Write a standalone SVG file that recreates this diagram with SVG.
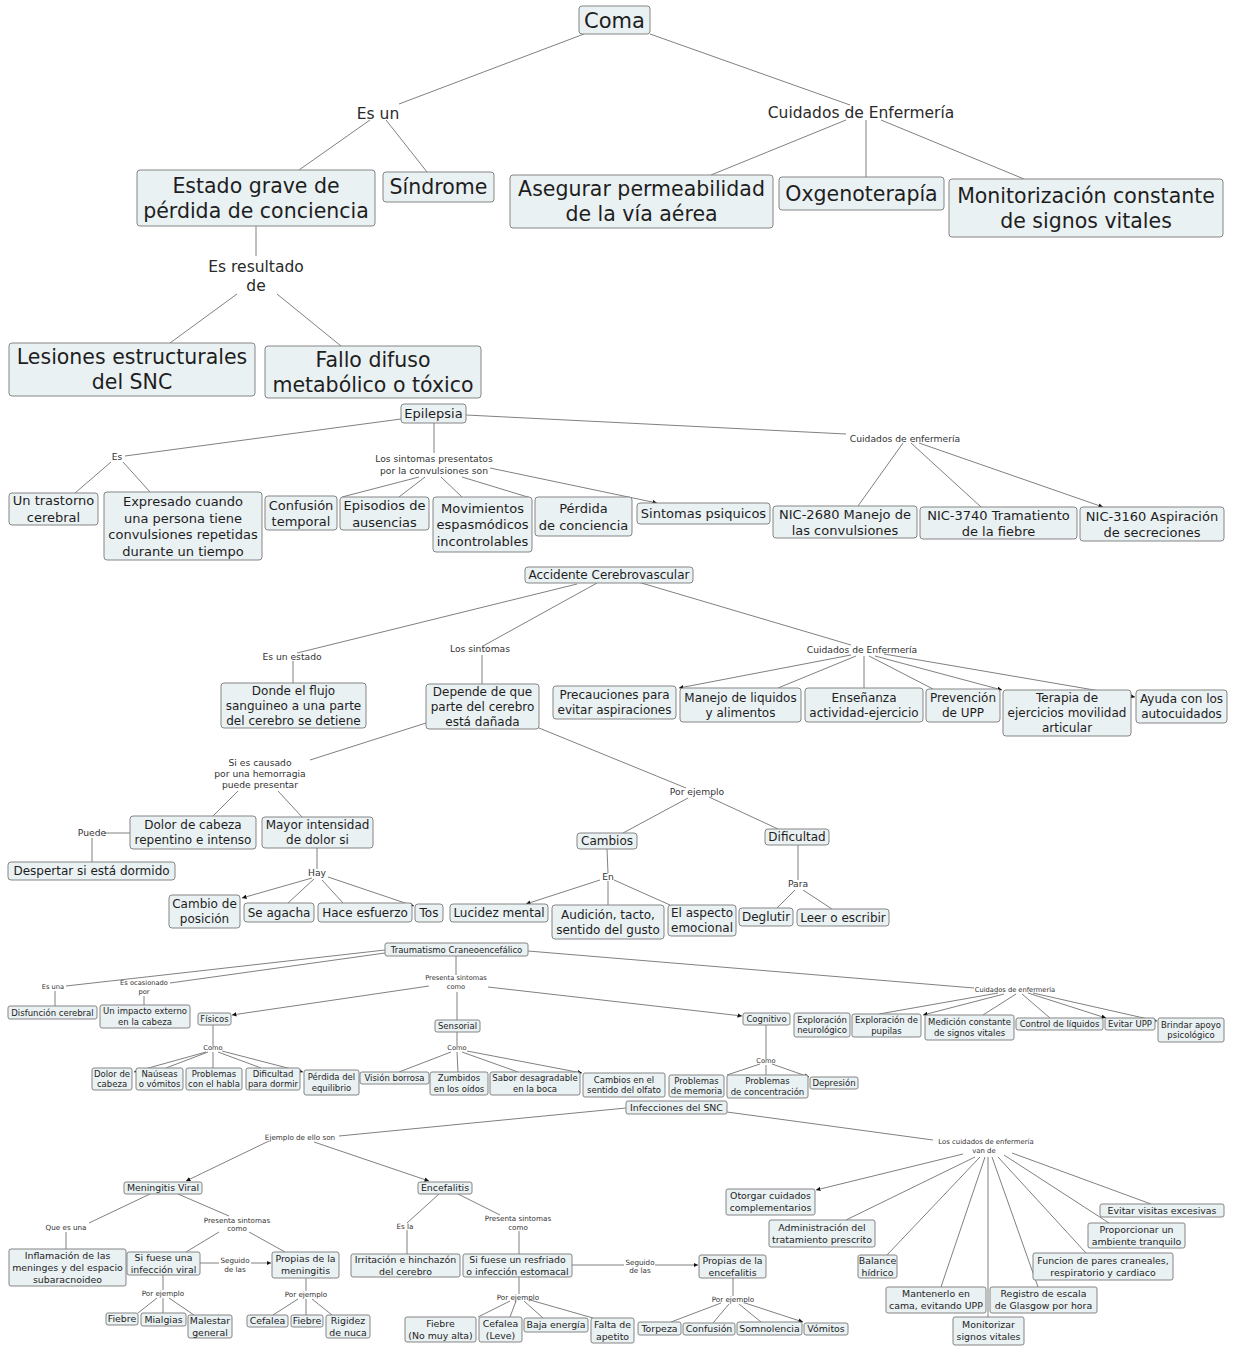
<svg xmlns="http://www.w3.org/2000/svg" width="1233" height="1346" viewBox="0 0 1233 1346">
<style>
text{font-family:"DejaVu Sans",Verdana,"Liberation Sans",sans-serif;fill:#1e1e1e;text-anchor:middle}
.n rect{fill:#eaf1f3;stroke:#858585;stroke-width:1}
.c line{stroke:#808080;stroke-width:1}
.c line.a{marker-end:url(#ah)}
.f21{font-size:21px}.f20{font-size:20.5px}.f13{font-size:13px}.f12{font-size:12px}.f9{font-size:9.4px}.f85{font-size:8.5px}
.l15{font-size:15.5px;fill:#2a2a2a}.l9{font-size:9.2px;fill:#333}.l7{font-size:7.2px;fill:#333}.l67{font-size:6.7px;fill:#333}
</style>
<defs>
<marker id="ah" viewBox="0 0 6 6" refX="6" refY="3" markerWidth="4.5" markerHeight="4.5" orient="auto" markerUnits="userSpaceOnUse"><path d="M0,0 L6,3 L0,6 z" fill="#111"/></marker>
</defs>
<rect width="1233" height="1346" fill="#ffffff"/>
<g id="connectors" class="c">
<!-- Coma -->
<line x1="584" y1="34" x2="399" y2="104"/>
<line x1="370" y1="120" x2="299" y2="170"/>
<line x1="386" y1="120" x2="427" y2="172"/>
<line x1="650" y1="34" x2="850" y2="105"/>
<line x1="846" y1="120" x2="711" y2="175"/>
<line x1="866" y1="120" x2="866" y2="177"/>
<line x1="881" y1="120" x2="1024" y2="179"/>
<line x1="256" y1="226" x2="256" y2="256"/>
<line x1="237" y1="294" x2="170" y2="343"/>
<line x1="277" y1="294" x2="341" y2="346"/>
<!-- Epilepsia -->
<line x1="401" y1="419" x2="125" y2="456"/>
<line x1="111" y1="462" x2="75" y2="493"/>
<line x1="123" y1="462" x2="150" y2="492"/>
<line x1="434" y1="423" x2="434" y2="453"/>
<line x1="419" y1="477" x2="342" y2="497"/>
<line x1="425" y1="477" x2="399" y2="497"/>
<line x1="441" y1="477" x2="462" y2="497"/>
<line x1="462" y1="477" x2="531" y2="498"/>
<line class="a" x1="490" y1="468" x2="657" y2="503"/>
<line x1="466" y1="415" x2="846" y2="434"/>
<line x1="903" y1="443" x2="858" y2="506"/>
<line x1="911" y1="443" x2="981" y2="507"/>
<line class="a" x1="919" y1="443" x2="1103" y2="507"/>
<!-- ACV -->
<line x1="577" y1="584" x2="297" y2="653"/>
<line x1="293" y1="661" x2="293" y2="683"/>
<line x1="597" y1="583" x2="483" y2="646"/>
<line x1="482" y1="655" x2="482" y2="684"/>
<line x1="638" y1="582" x2="851" y2="645"/>
<line class="a" x1="851" y1="655" x2="679" y2="688"/>
<line x1="856" y1="656" x2="778" y2="688"/>
<line x1="864" y1="656" x2="864" y2="688"/>
<line x1="869" y1="656" x2="933" y2="689"/>
<line class="a" x1="875" y1="656" x2="1002" y2="690"/>
<line class="a" x1="884" y1="654" x2="1135" y2="697"/>
<line x1="426" y1="723" x2="310" y2="760"/>
<line x1="539" y1="728" x2="686" y2="788"/>
<line x1="238" y1="791" x2="213" y2="816"/>
<line x1="278" y1="791" x2="302" y2="817"/>
<line x1="130" y1="833" x2="104" y2="833"/>
<line x1="92" y1="838" x2="92" y2="862"/>
<line x1="317" y1="847" x2="317" y2="869"/>
<line class="a" x1="312" y1="878" x2="242" y2="898"/>
<line x1="314" y1="879" x2="288" y2="903"/>
<line x1="322" y1="880" x2="343" y2="903"/>
<line class="a" x1="328" y1="877" x2="414" y2="906"/>
<line x1="688" y1="798" x2="623" y2="833"/>
<line x1="709" y1="797" x2="778" y2="829"/>
<line x1="607" y1="849" x2="608" y2="873"/>
<line class="a" x1="600" y1="880" x2="526" y2="904"/>
<line x1="608" y1="881" x2="608" y2="905"/>
<line x1="614" y1="880" x2="670" y2="905"/>
<line x1="798" y1="845" x2="798" y2="880"/>
<line x1="795" y1="890" x2="777" y2="908"/>
<line x1="803" y1="890" x2="832" y2="909"/>
<!-- Trauma -->
<line x1="385" y1="950" x2="66" y2="986"/>
<line x1="385" y1="953" x2="170" y2="983"/>
<line x1="55" y1="991" x2="55" y2="1006"/>
<line x1="144" y1="996" x2="144" y2="1005"/>
<line x1="456" y1="956" x2="456" y2="975"/>
<line class="a" x1="429" y1="986" x2="232" y2="1015"/>
<line x1="457" y1="992" x2="457" y2="1020"/>
<line class="a" x1="488" y1="987" x2="742" y2="1016"/>
<line x1="528" y1="951" x2="974" y2="988"/>
<line x1="998" y1="993" x2="879" y2="1014"/>
<line class="a" x1="1004" y1="994" x2="923" y2="1015"/>
<line x1="1016" y1="994" x2="983" y2="1015"/>
<line x1="1022" y1="994" x2="1050" y2="1018"/>
<line class="a" x1="1028" y1="993" x2="1106" y2="1018"/>
<line class="a" x1="1033" y1="993" x2="1157" y2="1021"/>
<line x1="213" y1="1025" x2="213" y2="1046"/>
<line class="a" x1="206" y1="1052" x2="134" y2="1072"/>
<line x1="208" y1="1052" x2="166" y2="1068"/>
<line x1="213" y1="1052" x2="213" y2="1068"/>
<line x1="218" y1="1052" x2="261" y2="1068"/>
<line class="a" x1="222" y1="1051" x2="303" y2="1072"/>
<line x1="457" y1="1032" x2="457" y2="1046"/>
<line x1="451" y1="1052" x2="399" y2="1072"/>
<line x1="457" y1="1052" x2="458" y2="1072"/>
<line x1="462" y1="1052" x2="518" y2="1072"/>
<line class="a" x1="467" y1="1051" x2="582" y2="1073"/>
<line x1="766" y1="1025" x2="766" y2="1059"/>
<line x1="760" y1="1064" x2="727" y2="1075"/>
<line x1="766" y1="1065" x2="766" y2="1075"/>
<line class="a" x1="772" y1="1064" x2="809" y2="1077"/>
<!-- Infecciones -->
<line x1="626" y1="1108" x2="339" y2="1136"/>
<line x1="727" y1="1112" x2="933" y2="1140"/>
<line class="a" x1="269" y1="1141" x2="186" y2="1181"/>
<line class="a" x1="314" y1="1142" x2="429" y2="1181"/>
<line x1="150" y1="1194" x2="89" y2="1223"/>
<line x1="66" y1="1232" x2="66" y2="1249"/>
<line x1="178" y1="1194" x2="229" y2="1216"/>
<line x1="219" y1="1232" x2="186" y2="1252"/>
<line x1="249" y1="1232" x2="285" y2="1252"/>
<line x1="200" y1="1263" x2="219" y2="1263"/>
<line class="a" x1="251" y1="1263" x2="271" y2="1263"/>
<line x1="163" y1="1275" x2="163" y2="1290"/>
<line x1="157" y1="1298" x2="138" y2="1313"/>
<line x1="163" y1="1298" x2="163" y2="1313"/>
<line x1="169" y1="1298" x2="194" y2="1315"/>
<line x1="306" y1="1278" x2="306" y2="1291"/>
<line x1="298" y1="1299" x2="273" y2="1315"/>
<line x1="306" y1="1299" x2="306" y2="1315"/>
<line x1="312" y1="1299" x2="332" y2="1315"/>
<line x1="439" y1="1194" x2="407" y2="1223"/>
<line x1="407" y1="1230" x2="407" y2="1254"/>
<line x1="458" y1="1194" x2="500" y2="1215"/>
<line x1="519" y1="1231" x2="519" y2="1254"/>
<line x1="572" y1="1265" x2="624" y2="1265"/>
<line class="a" x1="655" y1="1265" x2="698" y2="1265"/>
<line x1="519" y1="1277" x2="519" y2="1294"/>
<line x1="510" y1="1301" x2="478" y2="1317"/>
<line x1="516" y1="1301" x2="510" y2="1317"/>
<line x1="524" y1="1301" x2="543" y2="1318"/>
<line x1="530" y1="1300" x2="593" y2="1318"/>
<line x1="733" y1="1278" x2="733" y2="1296"/>
<line x1="721" y1="1303" x2="671" y2="1322"/>
<line x1="729" y1="1304" x2="713" y2="1323"/>
<line x1="739" y1="1304" x2="761" y2="1322"/>
<line class="a" x1="745" y1="1303" x2="803" y2="1322"/>
<line class="a" x1="963" y1="1154" x2="816" y2="1190"/>
<line x1="975" y1="1157" x2="846" y2="1220"/>
<line x1="980" y1="1157" x2="887" y2="1255"/>
<line x1="985" y1="1157" x2="941" y2="1287"/>
<line x1="988" y1="1157" x2="988" y2="1317"/>
<line x1="992" y1="1157" x2="1038" y2="1287"/>
<line x1="998" y1="1157" x2="1086" y2="1253"/>
<line x1="1004" y1="1155" x2="1109" y2="1223"/>
<line x1="1012" y1="1153" x2="1151" y2="1204"/>
</g>
<g id="labels">
<text class="l15" x="378" y="118.5">Es un</text>
<text class="l15" x="861" y="117.5">Cuidados de Enfermería</text>
<text class="l15"><tspan x="256" y="271.5">Es resultado</tspan><tspan x="256" y="290.5">de</tspan></text>
<text class="l9" x="117" y="460.2">Es</text>
<text class="l9"><tspan x="434" y="462.2">Los sintomas presentatos</tspan><tspan x="434" y="474.2">por la convulsiones son</tspan></text>
<text class="l9" x="905" y="442.4">Cuidados de enfermería</text>
<text class="l9" x="292" y="660.2">Es un estado</text>
<text class="l9" x="480" y="652.2">Los sintomas</text>
<text class="l9" x="862" y="653.2">Cuidados de Enfermería</text>
<text class="l9"><tspan x="260" y="766.2">Si es causado</tspan><tspan x="260" y="777.2">por una hemorragia</tspan><tspan x="260" y="788.2">puede presentar</tspan></text>
<text class="l9" x="92" y="836.2">Puede</text>
<text class="l9" x="317" y="876.2">Hay</text>
<text class="l9" x="697" y="795.2">Por ejemplo</text>
<text class="l9" x="608" y="880.2">En</text>
<text class="l9" x="798" y="887.2">Para</text>
<text class="l67" x="53" y="989.4">Es una</text>
<text class="l67"><tspan x="144" y="985.4">Es ocasionado</tspan><tspan x="144" y="994.4">por</tspan></text>
<text class="l67"><tspan x="456" y="980.4">Presenta sintomas</tspan><tspan x="456" y="989.4">como</tspan></text>
<text class="l67" x="213" y="1050.4">Como</text>
<text class="l67" x="457" y="1050.4">Como</text>
<text class="l67" x="766" y="1063.4">Como</text>
<text class="l67" x="1015" y="992.4">Cuidados de enfermería</text>
<text class="l7" x="300" y="1139.6">Ejemplo de ello son</text>
<text class="l7" style="font-size:6.9px"><tspan x="986" y="1143.6">Los cuidados de enfermería</tspan><tspan x="984" y="1152.6">van de</tspan></text>
<text class="l7" x="66" y="1229.6">Que es una</text>
<text class="l7"><tspan x="237" y="1222.6">Presenta sintomas</tspan><tspan x="237" y="1230.6">como</tspan></text>
<text class="l7"><tspan x="235" y="1262.6">Seguido</tspan><tspan x="235" y="1271.6">de las</tspan></text>
<text class="l7" x="163" y="1295.6">Por ejemplo</text>
<text class="l7" x="306" y="1296.6">Por ejemplo</text>
<text class="l7" x="405" y="1228.6">Es la</text>
<text class="l7"><tspan x="518" y="1220.6">Presenta sintomas</tspan><tspan x="518" y="1229.6">como</tspan></text>
<text class="l7" x="518" y="1299.6">Por ejemplo</text>
<text class="l7"><tspan x="640" y="1264.6">Seguido</tspan><tspan x="640" y="1272.6">de las</tspan></text>
<text class="l7" x="733" y="1301.6">Por ejemplo</text>
</g>
<!-- Section 1 -->
<g id="coma" class="n"><rect x="579" y="6" width="71" height="28" rx="3"/><text class="f21" x="614.5" y="27.5">Coma</text></g>
<g id="estado" class="n"><rect x="137" y="170" width="238" height="56" rx="3"/><text class="f20"><tspan x="256" y="192.9">Estado grave de</tspan><tspan x="256" y="217.9">pérdida de conciencia</tspan></text></g>
<g id="sindrome" class="n"><rect x="383" y="172" width="111" height="30" rx="3"/><text class="f20" x="438.5" y="194.4">Síndrome</text></g>
<g id="asegurar" class="n"><rect x="510" y="175" width="263" height="53" rx="3"/><text class="f20"><tspan x="641.5" y="196.4">Asegurar permeabilidad</tspan><tspan x="641.5" y="221.4">de la vía aérea</tspan></text></g>
<g id="oxgeno" class="n"><rect x="779" y="177" width="165" height="33" rx="3"/><text class="f20" x="861.5" y="200.9">Oxgenoterapía</text></g>
<g id="monitorizacion" class="n"><rect x="949" y="179" width="274" height="58" rx="3"/><text class="f20"><tspan x="1086" y="202.9">Monitorización constante</tspan><tspan x="1086" y="227.9">de signos vitales</tspan></text></g>
<g id="lesiones" class="n"><rect x="9" y="343" width="246" height="53" rx="3"/><text class="f20"><tspan x="132" y="364.4">Lesiones estructurales</tspan><tspan x="132" y="389.4">del SNC</tspan></text></g>
<g id="fallo" class="n"><rect x="265" y="346" width="216" height="52" rx="3"/><text class="f20"><tspan x="373" y="366.9">Fallo difuso</tspan><tspan x="373" y="391.9">metabólico o tóxico</tspan></text></g>
<!-- Epilepsia -->
<g id="epilepsia" class="n"><rect x="401" y="404" width="65" height="19" rx="3"/><text class="f13" x="433.5" y="418.2">Epilepsia</text></g>
<g id="trastorno" class="n"><rect x="9" y="493" width="89" height="32" rx="3"/><text class="f13"><tspan x="53.5" y="505.4">Un trastorno</tspan><tspan x="53.5" y="521.9">cerebral</tspan></text></g>
<g id="expresado" class="n"><rect x="104" y="492" width="158" height="68" rx="3"/><text class="f13"><tspan x="183" y="506">Expresado cuando</tspan><tspan x="183" y="522.5">una persona tiene</tspan><tspan x="183" y="539">convulsiones repetidas</tspan><tspan x="183" y="555.5">durante un tiempo</tspan></text></g>
<g id="confusion" class="n"><rect x="265" y="496" width="72" height="34" rx="3"/><text class="f13"><tspan x="301" y="509.5">Confusión</tspan><tspan x="301" y="526">temporal</tspan></text></g>
<g id="episodios" class="n"><rect x="340" y="497" width="89" height="33" rx="3"/><text class="f13"><tspan x="384.5" y="510">Episodios de</tspan><tspan x="384.5" y="526.5">ausencias</tspan></text></g>
<g id="movimientos" class="n"><rect x="433" y="497" width="99" height="55" rx="3"/><text class="f13"><tspan x="482.5" y="512.5">Movimientos</tspan><tspan x="482.5" y="529">espasmódicos</tspan><tspan x="482.5" y="545.5">incontrolables</tspan></text></g>
<g id="perdida" class="n"><rect x="535" y="497" width="97" height="39" rx="3"/><text class="f13"><tspan x="583.5" y="513">Pérdida</tspan><tspan x="583.5" y="529.5">de conciencia</tspan></text></g>
<g id="psiquicos" class="n"><rect x="637" y="503" width="133" height="21" rx="3"/><text class="f13" x="703.5" y="518.2">Sintomas psiquicos</text></g>
<g id="nic2680" class="n"><rect x="773" y="506" width="144" height="32" rx="3"/><text class="f13"><tspan x="845" y="518.5">NIC-2680 Manejo de</tspan><tspan x="845" y="535">las convulsiones</tspan></text></g>
<g id="nic3740" class="n"><rect x="920" y="507" width="157" height="32" rx="3"/><text class="f13"><tspan x="998.5" y="519.5">NIC-3740 Tramatiento</tspan><tspan x="998.5" y="536">de la fiebre</tspan></text></g>
<g id="nic3160" class="n"><rect x="1080" y="507" width="144" height="34" rx="3"/><text class="f13"><tspan x="1152" y="520.5">NIC-3160 Aspiración</tspan><tspan x="1152" y="537">de secreciones</tspan></text></g>
<!-- ACV -->
<g id="acv" class="n"><rect x="525" y="567" width="168" height="16" rx="3"/><text class="f12" x="609" y="579.3">Accidente Cerebrovascular</text></g>
<g id="donde" class="n"><rect x="221" y="683" width="145" height="45" rx="3"/><text class="f12"><tspan x="293.5" y="694.8">Donde el flujo</tspan><tspan x="293.5" y="709.8">sanguineo a una parte</tspan><tspan x="293.5" y="724.8">del cerebro se detiene</tspan></text></g>
<g id="depende" class="n"><rect x="426" y="684" width="113" height="45" rx="3"/><text class="f12"><tspan x="482.5" y="695.8">Depende de que</tspan><tspan x="482.5" y="710.8">parte del cerebro</tspan><tspan x="482.5" y="725.8">está dañada</tspan></text></g>
<g id="precauciones" class="n"><rect x="553" y="686" width="123" height="33" rx="3"/><text class="f12"><tspan x="614.5" y="699.3">Precauciones para</tspan><tspan x="614.5" y="714.3">evitar aspiraciones</tspan></text></g>
<g id="manejo" class="n"><rect x="680" y="688" width="121" height="34" rx="3"/><text class="f12"><tspan x="740.5" y="701.8">Manejo de liquidos</tspan><tspan x="740.5" y="716.8">y alimentos</tspan></text></g>
<g id="ensenanza" class="n"><rect x="805" y="688" width="118" height="34" rx="3"/><text class="f12"><tspan x="864" y="701.8">Enseñanza</tspan><tspan x="864" y="716.8">actividad-ejercicio</tspan></text></g>
<g id="prevencion" class="n"><rect x="926" y="689" width="74" height="33" rx="3"/><text class="f12"><tspan x="963" y="702.3">Prevención</tspan><tspan x="963" y="717.3">de UPP</tspan></text></g>
<g id="terapia" class="n"><rect x="1003" y="690" width="128" height="46" rx="3"/><text class="f12"><tspan x="1067" y="702.3">Terapia de</tspan><tspan x="1067" y="717.3">ejercicios movilidad</tspan><tspan x="1067" y="732.3">articular</tspan></text></g>
<g id="ayuda" class="n"><rect x="1136" y="690" width="91" height="33" rx="3"/><text class="f12"><tspan x="1181.5" y="703.3">Ayuda con los</tspan><tspan x="1181.5" y="718.3">autocuidados</tspan></text></g>
<g id="dolor" class="n"><rect x="130" y="816" width="126" height="33" rx="3"/><text class="f12"><tspan x="193" y="829.3">Dolor de cabeza</tspan><tspan x="193" y="844.3">repentino e intenso</tspan></text></g>
<g id="mayor" class="n"><rect x="262" y="817" width="111" height="31" rx="3"/><text class="f12"><tspan x="317.5" y="829.3">Mayor intensidad</tspan><tspan x="317.5" y="844.3">de dolor si</tspan></text></g>
<g id="despertar" class="n"><rect x="8" y="862" width="167" height="18" rx="3"/><text class="f12" x="91.5" y="875.3">Despertar si está dormido</text></g>
<g id="cambio-pos" class="n"><rect x="169" y="895" width="71" height="33" rx="3"/><text class="f12"><tspan x="204.5" y="908.3">Cambio de</tspan><tspan x="204.5" y="923.3">posición</tspan></text></g>
<g id="agacha" class="n"><rect x="244" y="903" width="70" height="19" rx="3"/><text class="f12" x="279" y="916.8">Se agacha</text></g>
<g id="esfuerzo" class="n"><rect x="318" y="903" width="94" height="19" rx="3"/><text class="f12" x="365" y="916.8">Hace esfuerzo</text></g>
<g id="tos" class="n"><rect x="415" y="904" width="28" height="18" rx="3"/><text class="f12" x="429" y="917.3">Tos</text></g>
<g id="cambios" class="n"><rect x="577" y="833" width="60" height="16" rx="3"/><text class="f12" x="607" y="845.3">Cambios</text></g>
<g id="dificultad" class="n"><rect x="765" y="829" width="64" height="16" rx="3"/><text class="f12" x="797" y="841.3">Dificultad</text></g>
<g id="lucidez" class="n"><rect x="450" y="904" width="98" height="18" rx="3"/><text class="f12" x="499" y="917.3">Lucidez mental</text></g>
<g id="audicion" class="n"><rect x="552" y="905" width="112" height="34" rx="3"/><text class="f12"><tspan x="608" y="918.8">Audición, tacto,</tspan><tspan x="608" y="933.8">sentido del gusto</tspan></text></g>
<g id="emocional" class="n"><rect x="668" y="905" width="68" height="31" rx="3"/><text class="f12"><tspan x="702" y="917.3">El aspecto</tspan><tspan x="702" y="932.3">emocional</tspan></text></g>
<g id="deglutir" class="n"><rect x="739" y="908" width="54" height="18" rx="3"/><text class="f12" x="766" y="921.3">Deglutir</text></g>
<g id="leer" class="n"><rect x="797" y="909" width="92" height="17" rx="3"/><text class="f12" x="843" y="921.8">Leer o escribir</text></g>
<!-- Trauma -->
<g id="trauma" class="n"><rect x="385" y="943" width="143" height="13" rx="2"/><text class="f85" x="456.5" y="952.6">Traumatismo Craneoencefálico</text></g>
<g id="disfuncion" class="n"><rect x="8" y="1006" width="89" height="13" rx="2"/><text class="f85" x="52.5" y="1015.6">Disfunción cerebral</text></g>
<g id="impacto" class="n"><rect x="100" y="1005" width="90" height="23" rx="2"/><text class="f85"><tspan x="145" y="1014.4">Un impacto externo</tspan><tspan x="145" y="1024.9">en la cabeza</tspan></text></g>
<g id="fisicos" class="n"><rect x="198" y="1013" width="33" height="12" rx="2"/><text class="f85" x="214.5" y="1022.1">Físicos</text></g>
<g id="sensorial" class="n"><rect x="435" y="1020" width="45" height="12" rx="2"/><text class="f85" x="457.5" y="1029.1">Sensorial</text></g>
<g id="cognitivo" class="n"><rect x="743" y="1013" width="47" height="12" rx="2"/><text class="f85" x="766.5" y="1022.1">Cognitivo</text></g>
<g id="dolor-cab" class="n"><rect x="92" y="1068" width="40" height="22" rx="2"/><text class="f85"><tspan x="112" y="1076.9">Dolor de</tspan><tspan x="112" y="1087.4">cabeza</tspan></text></g>
<g id="nauseas" class="n"><rect x="136" y="1068" width="47" height="22" rx="2"/><text class="f85"><tspan x="159.5" y="1076.9">Naúseas</tspan><tspan x="159.5" y="1087.4">o vómitos</tspan></text></g>
<g id="habla" class="n"><rect x="186" y="1068" width="56" height="22" rx="2"/><text class="f85"><tspan x="214" y="1076.9">Problemas</tspan><tspan x="214" y="1087.4">con el habla</tspan></text></g>
<g id="dormir" class="n"><rect x="246" y="1068" width="54" height="22" rx="2"/><text class="f85"><tspan x="273" y="1076.9">Dificultad</tspan><tspan x="273" y="1087.4">para dormir</tspan></text></g>
<g id="equilibrio" class="n"><rect x="304" y="1070" width="55" height="25" rx="2"/><text class="f85"><tspan x="331.5" y="1080.4">Pérdida del</tspan><tspan x="331.5" y="1090.9">equilibrio</tspan></text></g>
<g id="vision" class="n"><rect x="360" y="1072" width="69" height="12" rx="2"/><text class="f85" x="394.5" y="1081.1">Visión borrosa</text></g>
<g id="zumbidos" class="n"><rect x="430" y="1072" width="58" height="23" rx="2"/><text class="f85"><tspan x="459" y="1081.4">Zumbidos</tspan><tspan x="459" y="1091.9">en los oídos</tspan></text></g>
<g id="sabor" class="n"><rect x="490" y="1072" width="90" height="23" rx="2"/><text class="f85"><tspan x="535" y="1081.4">Sabor desagradable</tspan><tspan x="535" y="1091.9">en la boca</tspan></text></g>
<g id="olfato" class="n"><rect x="583" y="1073" width="82" height="24" rx="2"/><text class="f85"><tspan x="624" y="1082.9">Cambios en el</tspan><tspan x="624" y="1093.4">sentido del olfato</tspan></text></g>
<g id="memoria" class="n"><rect x="669" y="1075" width="55" height="22" rx="2"/><text class="f85"><tspan x="696.5" y="1083.9">Problemas</tspan><tspan x="696.5" y="1094.4">de memoria</tspan></text></g>
<g id="concentracion" class="n"><rect x="727" y="1075" width="81" height="23" rx="2"/><text class="f85"><tspan x="767.5" y="1084.4">Problemas</tspan><tspan x="767.5" y="1094.9">de concentración</tspan></text></g>
<g id="depresion" class="n"><rect x="810" y="1077" width="48" height="12" rx="2"/><text class="f85" x="834" y="1086.1">Depresión</text></g>
<g id="neuro" class="n"><rect x="794" y="1013" width="56" height="24" rx="2"/><text class="f85"><tspan x="822" y="1022.9">Exploración</tspan><tspan x="822" y="1033.4">neurológico</tspan></text></g>
<g id="pupilas" class="n"><rect x="852" y="1014" width="69" height="23" rx="2"/><text class="f85"><tspan x="886.5" y="1023.4">Exploración de</tspan><tspan x="886.5" y="1033.9">pupilas</tspan></text></g>
<g id="medicion" class="n"><rect x="925" y="1015" width="89" height="25" rx="2"/><text class="f85"><tspan x="969.5" y="1025.4">Medición constante</tspan><tspan x="969.5" y="1035.9">de signos vitales</tspan></text></g>
<g id="control" class="n"><rect x="1016" y="1018" width="87" height="12" rx="2"/><text class="f85" x="1059.5" y="1027.1">Control de líquidos</text></g>
<g id="evitar-upp" class="n"><rect x="1105" y="1018" width="50" height="12" rx="2"/><text class="f85" x="1130" y="1027.1">Evitar UPP</text></g>
<g id="apoyo" class="n"><rect x="1158" y="1018" width="66" height="24" rx="2"/><text class="f85"><tspan x="1191" y="1027.9">Brindar apoyo</tspan><tspan x="1191" y="1038.4">psicológico</tspan></text></g>
<!-- Infecciones -->
<g id="infecciones" class="n"><rect x="626" y="1101" width="101" height="13" rx="2"/><text class="f9" x="676.5" y="1110.9">Infecciones del SNC</text></g>
<g id="meningitis" class="n"><rect x="124" y="1182" width="78" height="12" rx="2"/><text class="f9" x="163" y="1191.4">Meningitis Viral</text></g>
<g id="encefalitis" class="n"><rect x="418" y="1182" width="54" height="12" rx="2"/><text class="f9" x="445" y="1191.4">Encefalitis</text></g>
<g id="inflamacion" class="n"><rect x="9" y="1249" width="117" height="37" rx="2"/><text class="f9"><tspan x="67.5" y="1258.9">Inflamación de las</tspan><tspan x="67.5" y="1270.9">meninges y del espacio</tspan><tspan x="67.5" y="1282.9">subaracnoideo</tspan></text></g>
<g id="viral" class="n"><rect x="127" y="1252" width="73" height="23" rx="2"/><text class="f9"><tspan x="163.5" y="1260.9">Si fuese una</tspan><tspan x="163.5" y="1272.9">infección viral</tspan></text></g>
<g id="propias-men" class="n"><rect x="272" y="1252" width="67" height="26" rx="2"/><text class="f9"><tspan x="305.5" y="1262.4">Propias de la</tspan><tspan x="305.5" y="1274.4">meningitis</tspan></text></g>
<g id="fiebre1" class="n"><rect x="106" y="1313" width="32" height="12" rx="2"/><text class="f9" x="122" y="1322.4">Fiebre</text></g>
<g id="mialgias" class="n"><rect x="141" y="1313" width="45" height="13" rx="2"/><text class="f9" x="163.5" y="1322.9">Mialgias</text></g>
<g id="malestar" class="n"><rect x="188" y="1315" width="44" height="23" rx="2"/><text class="f9"><tspan x="210" y="1323.9">Malestar</tspan><tspan x="210" y="1335.9">general</tspan></text></g>
<g id="cefalea1" class="n"><rect x="247" y="1315" width="41" height="12" rx="2"/><text class="f9" x="267.5" y="1324.4">Cefalea</text></g>
<g id="fiebre2" class="n"><rect x="291" y="1315" width="32" height="12" rx="2"/><text class="f9" x="307" y="1324.4">Fiebre</text></g>
<g id="rigidez" class="n"><rect x="326" y="1315" width="44" height="23" rx="2"/><text class="f9"><tspan x="348" y="1323.9">Rigidez</tspan><tspan x="348" y="1335.9">de nuca</tspan></text></g>
<g id="irritacion" class="n"><rect x="351" y="1254" width="109" height="23" rx="2"/><text class="f9"><tspan x="405.5" y="1262.9">Irritación e hinchazón</tspan><tspan x="405.5" y="1274.9">del cerebro</tspan></text></g>
<g id="resfriado" class="n"><rect x="463" y="1254" width="109" height="23" rx="2"/><text class="f9"><tspan x="517.5" y="1262.9">Si fuese un resfriado</tspan><tspan x="517.5" y="1274.9">o infección estomacal</tspan></text></g>
<g id="fiebre3" class="n"><rect x="405" y="1317" width="71" height="25" rx="2"/><text class="f9"><tspan x="440.5" y="1326.9">Fiebre</tspan><tspan x="440.5" y="1338.9">(No muy alta)</tspan></text></g>
<g id="cefalea2" class="n"><rect x="479" y="1317" width="43" height="25" rx="2"/><text class="f9"><tspan x="500.5" y="1326.9">Cefalea</tspan><tspan x="500.5" y="1338.9">(Leve)</tspan></text></g>
<g id="baja" class="n"><rect x="524" y="1318" width="64" height="14" rx="2"/><text class="f9" x="556" y="1328.4">Baja energía</text></g>
<g id="apetito" class="n"><rect x="591" y="1318" width="43" height="25" rx="2"/><text class="f9"><tspan x="612.5" y="1327.9">Falta de</tspan><tspan x="612.5" y="1339.9">apetito</tspan></text></g>
<g id="propias-enc" class="n"><rect x="699" y="1255" width="67" height="23" rx="2"/><text class="f9"><tspan x="732.5" y="1263.9">Propias de la</tspan><tspan x="732.5" y="1275.9">encefalitis</tspan></text></g>
<g id="torpeza" class="n"><rect x="638" y="1322" width="43" height="13" rx="2"/><text class="f9" x="659.5" y="1331.9">Torpeza</text></g>
<g id="confusion2" class="n"><rect x="683" y="1323" width="52" height="12" rx="2"/><text class="f9" x="709" y="1332.4">Confusión</text></g>
<g id="somnolencia" class="n"><rect x="737" y="1322" width="65" height="13" rx="2"/><text class="f9" x="769.5" y="1331.9">Somnolencia</text></g>
<g id="vomitos" class="n"><rect x="804" y="1323" width="44" height="12" rx="2"/><text class="f9" x="826" y="1332.4">Vómitos</text></g>
<g id="otorgar" class="n"><rect x="726" y="1189" width="89" height="26" rx="2"/><text class="f9"><tspan x="770.5" y="1199.4">Otorgar cuidados</tspan><tspan x="770.5" y="1211.4">complementarios</tspan></text></g>
<g id="administracion" class="n"><rect x="769" y="1220" width="106" height="27" rx="2"/><text class="f9"><tspan x="822" y="1230.9">Administración del</tspan><tspan x="822" y="1242.9">tratamiento prescrito</tspan></text></g>
<g id="balance" class="n"><rect x="858" y="1255" width="39" height="23" rx="2"/><text class="f9"><tspan x="877.5" y="1263.9">Balance</tspan><tspan x="877.5" y="1275.9">hídrico</tspan></text></g>
<g id="mantenerlo" class="n"><rect x="886" y="1287" width="100" height="26" rx="2"/><text class="f9"><tspan x="936" y="1297.4">Mantenerlo en</tspan><tspan x="936" y="1309.4">cama, evitando UPP</tspan></text></g>
<g id="monitorizar" class="n"><rect x="953" y="1317" width="71" height="28" rx="2"/><text class="f9"><tspan x="988.5" y="1328.4">Monitorizar</tspan><tspan x="988.5" y="1340.4">signos vitales</tspan></text></g>
<g id="registro" class="n"><rect x="990" y="1287" width="107" height="26" rx="2"/><text class="f9"><tspan x="1043.5" y="1297.4">Registro de escala</tspan><tspan x="1043.5" y="1309.4">de Glasgow por hora</tspan></text></g>
<g id="funcion" class="n"><rect x="1033" y="1253" width="140" height="27" rx="2"/><text class="f9"><tspan x="1103" y="1263.9">Funcion de pares craneales,</tspan><tspan x="1103" y="1275.9">respiratorio y cardiaco</tspan></text></g>
<g id="proporcionar" class="n"><rect x="1088" y="1223" width="97" height="25" rx="2"/><text class="f9"><tspan x="1136.5" y="1232.9">Proporcionar un</tspan><tspan x="1136.5" y="1244.9">ambiente tranquilo</tspan></text></g>
<g id="visitas" class="n"><rect x="1100" y="1204" width="124" height="13" rx="2"/><text class="f9" x="1162" y="1213.9">Evitar visitas excesivas</text></g>
</svg>
